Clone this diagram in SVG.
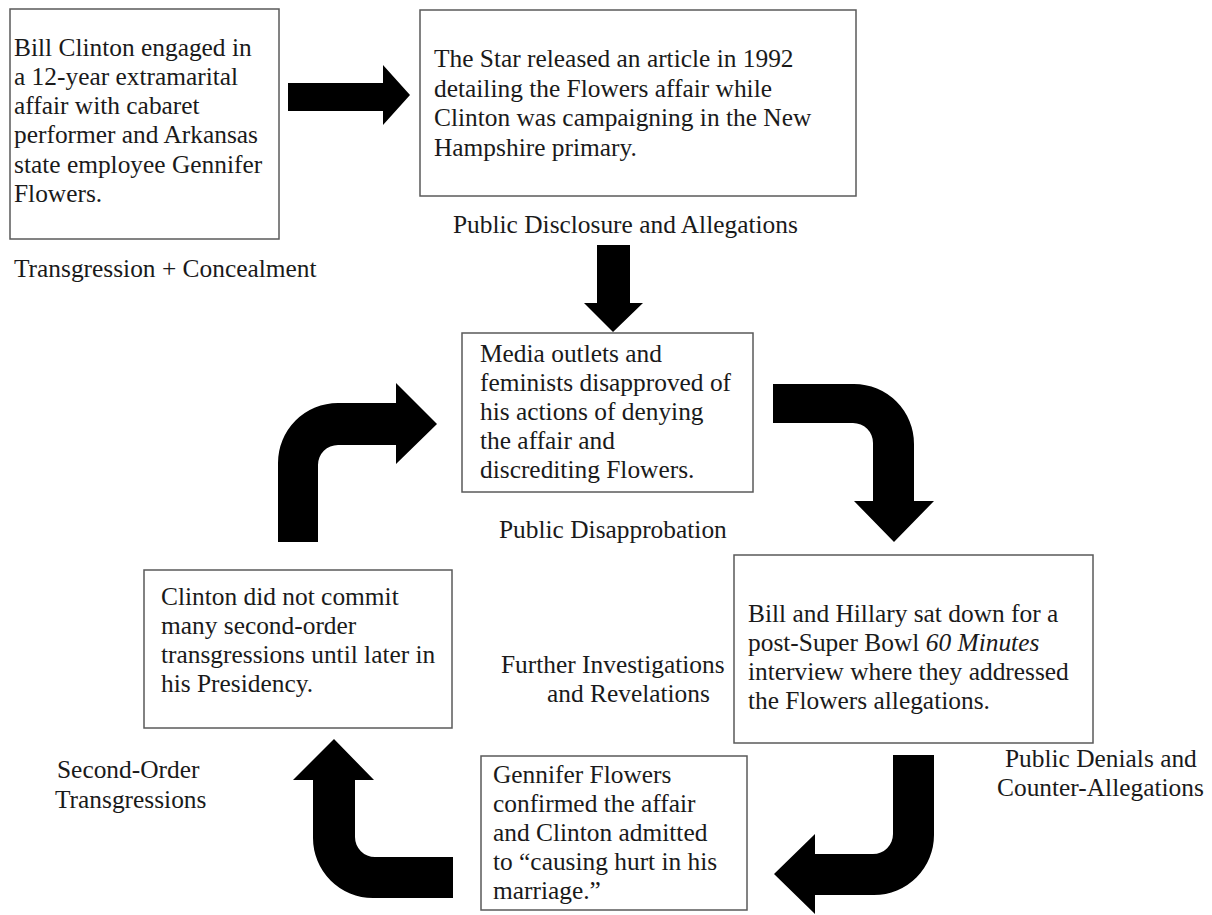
<svg xmlns="http://www.w3.org/2000/svg" width="1212" height="915" viewBox="0 0 1212 915">
<style>
.box{fill:#fff;stroke:#5a5a5a;stroke-width:1.5}
.t{font-family:"Liberation Serif","Times New Roman",serif;font-size:25.4px;fill:#1a1a1a}
.arr{fill:#000}
</style>
<rect width="1212" height="915" fill="#fff"/>
<g id="connectors">
<path class="arr" d="M288,83 L383,83 L383,65 L410,95 L383,125 L383,111 L288,111 Z"/>
<path class="arr" d="M597,245 L630,245 L630,303 L643,303 L613,332 L584,303 L597,303 Z"/>
<path class="arr" d="M773,384 L854,384 A60,60 0 0 1 914,444 L914,501 L934,501 L894,542 L854,501 L873,501 L873,443 A20,20 0 0 0 853,423 L773,423 Z"/>
<path class="arr" d="M893,755 L934,755 L934,835 A60,60 0 0 1 874,895 L815,895 L815,914 L774,874 L815,834 L815,854 L873,854 A20,20 0 0 0 893,834 Z"/>
<path class="arr" d="M453,857 L453,898 L373,898 A60,60 0 0 1 313,838 L313,780 L293,780 L334,739 L374,780 L355,780 L355,837 A20,20 0 0 0 375,857 Z"/>
<path class="arr" d="M278,542 L278,463 A60,60 0 0 1 338,403 L396,403 L396,383 L437,424 L396,464 L396,445 L338,445 A20,20 0 0 0 318,465 L318,542 Z"/>
</g>
<g id="node-transgression">
<rect class="box" x="10" y="9" width="269" height="230"/>
<text class="t" x="14" y="56">Bill Clinton engaged in</text>
<text class="t" x="14" y="85">a 12-year extramarital</text>
<text class="t" x="14" y="114">affair with cabaret</text>
<text class="t" x="14" y="143">performer and Arkansas</text>
<text class="t" x="14" y="173">state employee Gennifer</text>
<text class="t" x="14" y="202">Flowers.</text>
<text class="t" x="14" y="277">Transgression + Concealment</text>
</g>
<g id="node-disclosure">
<rect class="box" x="420" y="10" width="436" height="186"/>
<text class="t" x="434" y="67">The Star released an article in 1992</text>
<text class="t" x="434" y="97">detailing the Flowers affair while</text>
<text class="t" x="434" y="126">Clinton was campaigning in the New</text>
<text class="t" x="434" y="156">Hampshire primary.</text>
<text class="t" x="453" y="233">Public Disclosure and Allegations</text>
</g>
<g id="node-disapprobation">
<rect class="box" x="462" y="333" width="291" height="159"/>
<text class="t" x="480" y="362">Media outlets and</text>
<text class="t" x="480" y="391">feminists disapproved of</text>
<text class="t" x="480" y="420">his actions of denying</text>
<text class="t" x="480" y="449">the affair and</text>
<text class="t" x="480" y="478">discrediting Flowers.</text>
<text class="t" x="499" y="538">Public Disapprobation</text>
</g>
<g id="node-denials">
<rect class="box" x="734" y="555" width="359" height="188"/>
<text class="t" x="748" y="622">Bill and Hillary sat down for a</text>
<text class="t" x="748" y="651">post-Super Bowl <tspan font-style="italic">60 Minutes</tspan></text>
<text class="t" x="748" y="680">interview where they addressed</text>
<text class="t" x="748" y="709">the Flowers allegations.</text>
<text class="t" x="1005" y="767">Public Denials and</text>
<text class="t" x="997" y="796">Counter-Allegations</text>
</g>
<g id="node-investigations">
<rect class="box" x="481" y="756" width="266" height="154"/>
<text class="t" x="493" y="783">Gennifer Flowers</text>
<text class="t" x="493" y="812">confirmed the affair</text>
<text class="t" x="493" y="841">and Clinton admitted</text>
<text class="t" x="493" y="870">to “causing hurt in his</text>
<text class="t" x="493" y="899">marriage.”</text>
<text class="t" x="501" y="673">Further Investigations</text>
<text class="t" x="547" y="702">and Revelations</text>
</g>
<g id="node-second-order">
<rect class="box" x="144" y="570" width="308" height="158"/>
<text class="t" x="161" y="605">Clinton did not commit</text>
<text class="t" x="161" y="634">many second-order</text>
<text class="t" x="161" y="663">transgressions until later in</text>
<text class="t" x="161" y="692">his Presidency.</text>
<text class="t" x="57" y="778">Second-Order</text>
<text class="t" x="55" y="808">Transgressions</text>
</g>
</svg>
